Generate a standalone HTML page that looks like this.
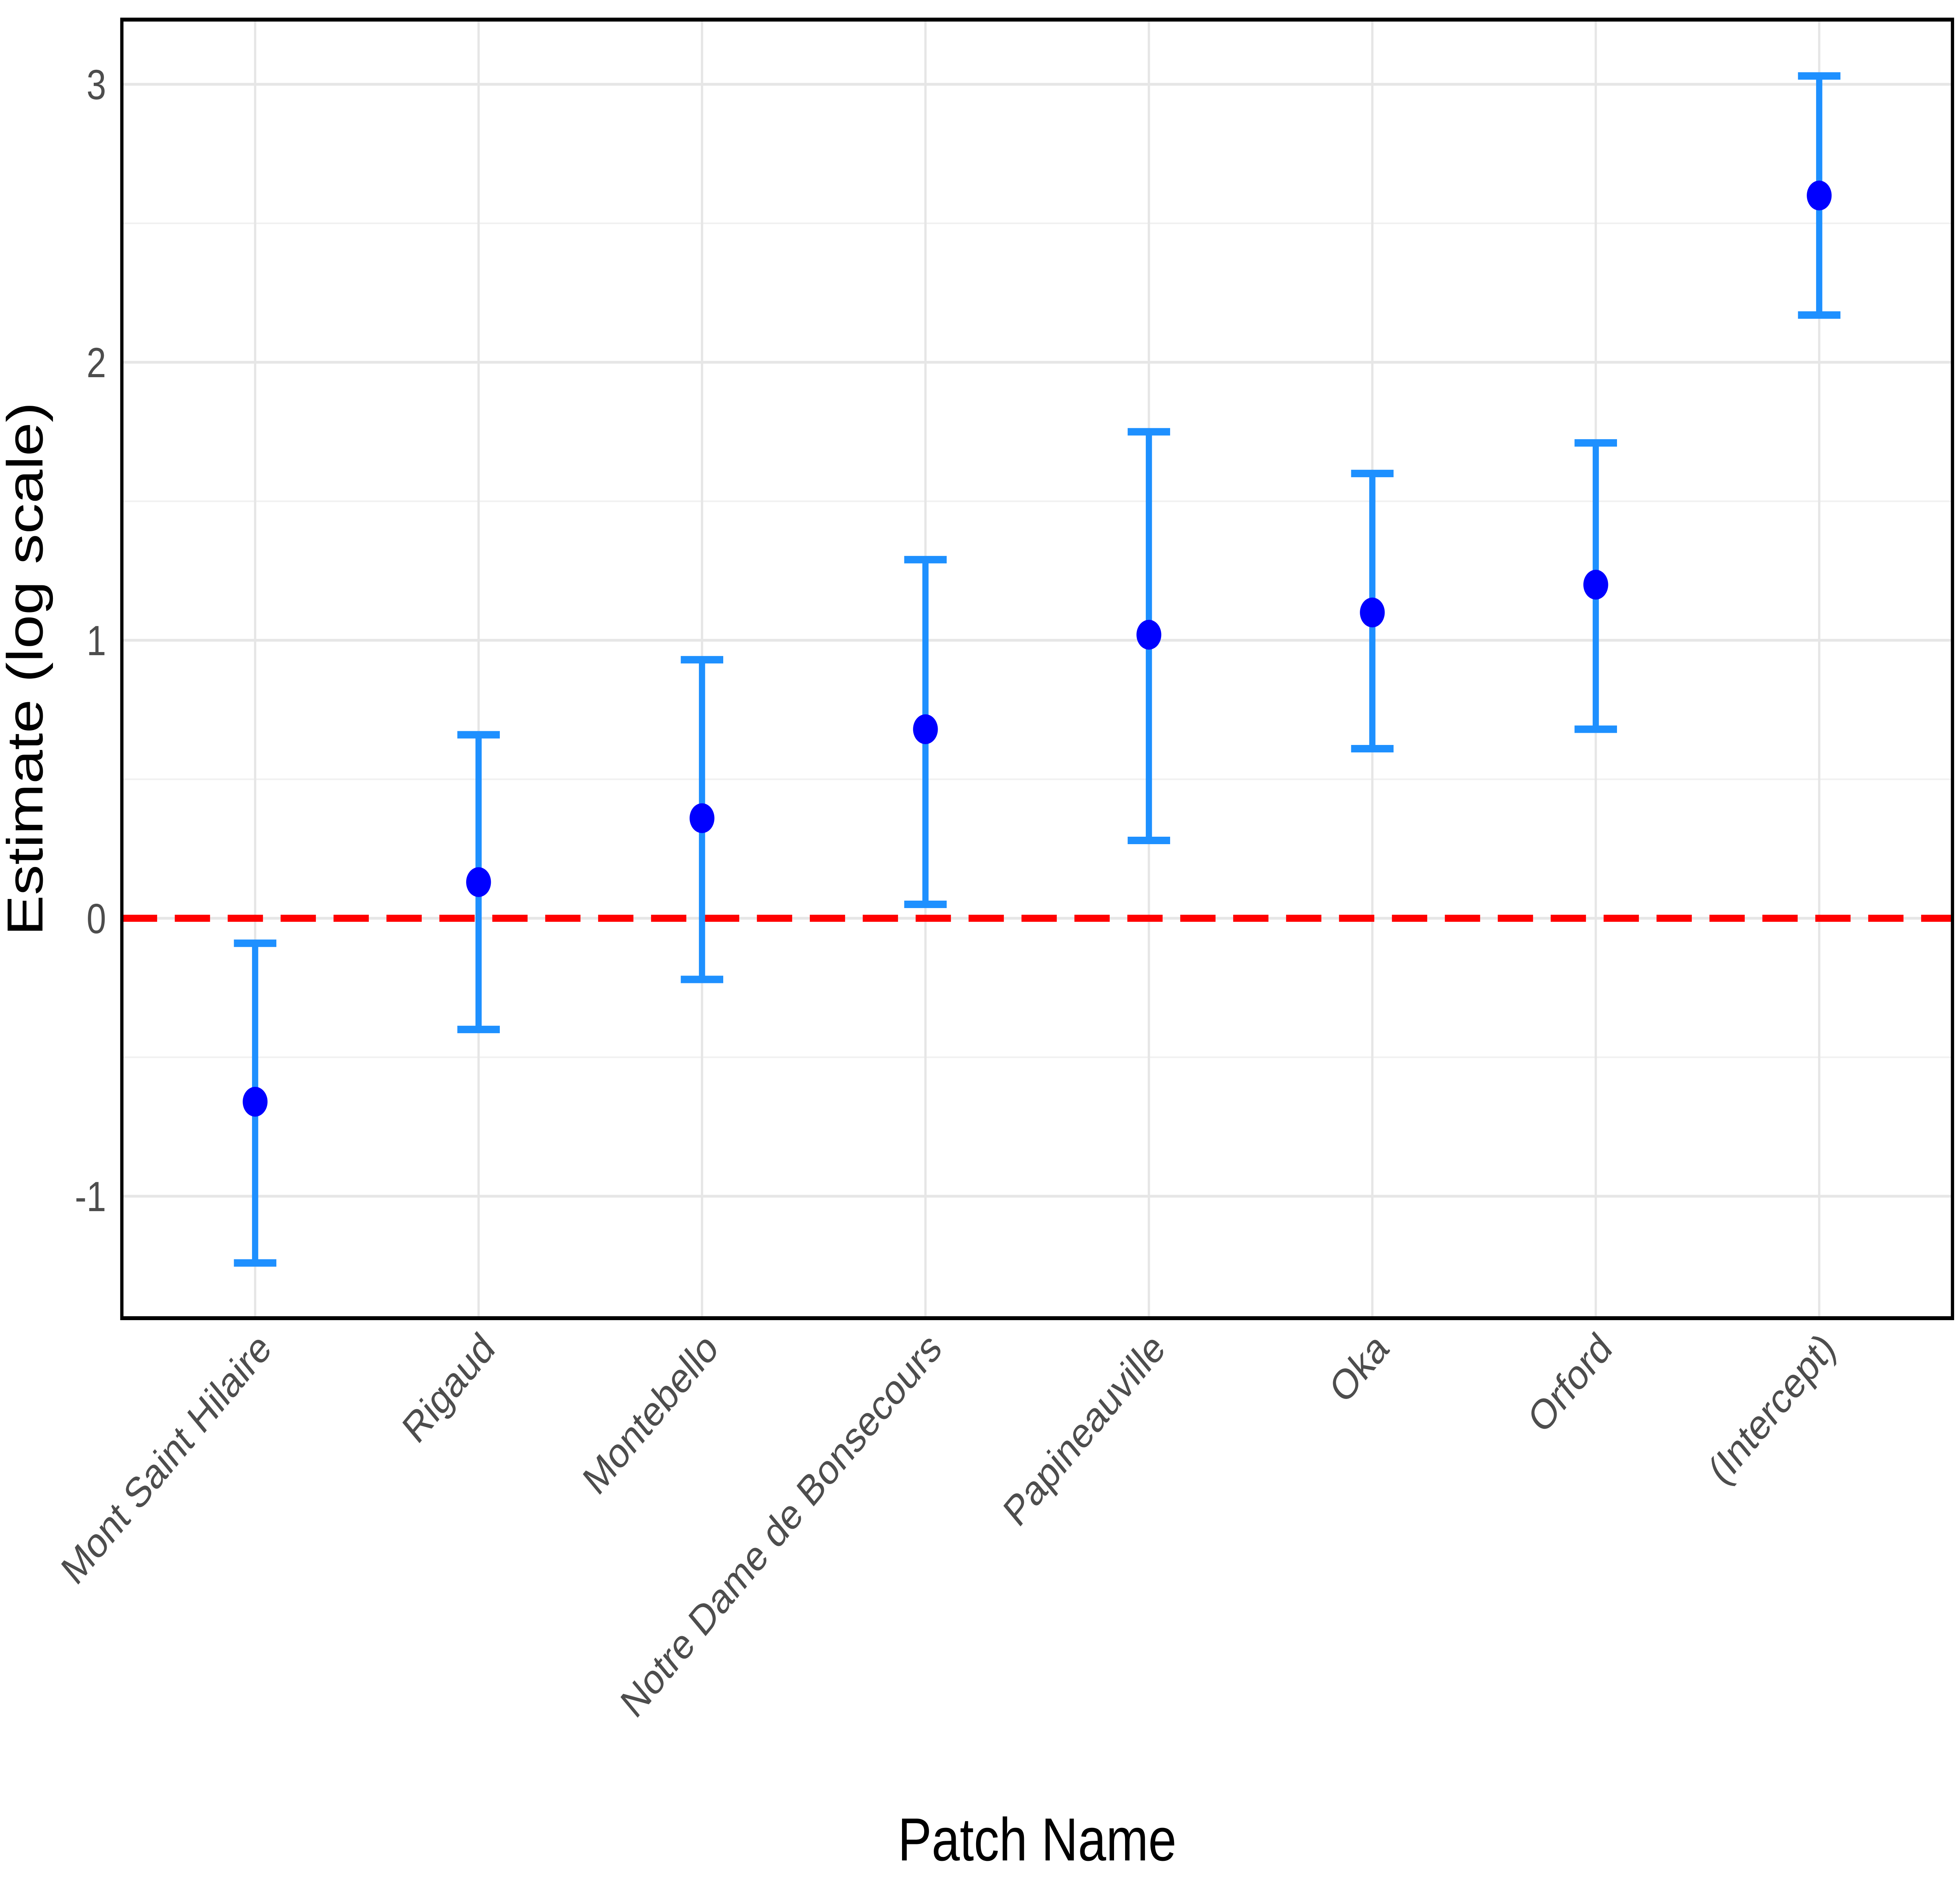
<!DOCTYPE html>
<html><head><meta charset="utf-8"><style>
html,body{margin:0;padding:0;background:#fff;width:100%;height:100%;overflow:hidden;}
svg{display:block;width:100vw;height:100vh;font-family:"Liberation Sans",Arial,sans-serif;}
</style></head><body>
<svg id="chart" viewBox="0 0 6000 4800" preserveAspectRatio="none" xmlns="http://www.w3.org/2000/svg">
<g id="grid"></g>
<g id="marks"></g>
<rect x="373" y="50" width="5604" height="3312" fill="none" stroke="#000" stroke-width="10"/>
<g id="yticks"></g>
<g id="xticks"></g>
<text x="3175" y="4745" font-size="155" text-anchor="middle" fill="#000">Patch Name</text>
<text transform="translate(130,1706) rotate(-90)" font-size="155" text-anchor="middle" fill="#000">Estimate (log scale)</text>
</svg>
<script>
const categories = ["Mont Saint Hilaire","Rigaud","Montebello","Notre Dame de Bonsecours","Papineauville","Oka","Orford","(Intercept)"];
const estimates = [-0.66, 0.13, 0.36, 0.68, 1.02, 1.10, 1.20, 2.60];
const lowerCI = [-1.24, -0.40, -0.22, 0.05, 0.28, 0.61, 0.68, 2.17];
const upperCI = [-0.09, 0.66, 0.93, 1.29, 1.75, 1.60, 1.71, 3.03];
const yTicks = [-1, 0, 1, 2, 3];
const yMinor = [-0.5, 0.5, 1.5, 2.5];

const NS = "http://www.w3.org/2000/svg";
const PL = 373, PR = 5977, PT = 50, PB = 3362;
const Y0 = 2342, YU = 709;
function y(v){ return Y0 - v * YU; }
function x(i){ return 781 + i * 684; }
function el(tag, attrs, parent){ const e = document.createElementNS(NS, tag); for (const k in attrs) e.setAttribute(k, attrs[k]); parent.appendChild(e); return e; }

const grid = document.getElementById('grid');
yMinor.forEach(v => {
  const l = el('line', {x1:PL, x2:PR, y1:y(v), y2:y(v), stroke:'#f0f0f0', 'stroke-width':4}, grid);
  
  
});
yTicks.forEach(v => {
  const l = el('line', {x1:PL, x2:PR, y1:y(v), y2:y(v), stroke:'#e6e6e6', 'stroke-width':7}, grid);
  
  
});
categories.forEach((c, i) => {
  const l = el('line', {x1:x(i), x2:x(i), y1:PT, y2:PB, stroke:'#e6e6e6', 'stroke-width':7}, grid);
  
  
});

const marks = document.getElementById('marks');
const zl = el('line', {x1:PL, x2:PR, y1:y(0), y2:y(0), stroke:'#ff0000', 'stroke-width':18, 'stroke-dasharray':'108 54'}, marks);



categories.forEach((c, i) => {
  const g = el('g', {}, marks);
  
  
  const cx = x(i);
  el('line', {x1:cx, x2:cx, y1:y(lowerCI[i]), y2:y(upperCI[i]), stroke:'#1e90ff', 'stroke-width':19}, g);
  el('line', {x1:cx-65, x2:cx+65, y1:y(lowerCI[i]), y2:y(lowerCI[i]), stroke:'#1e90ff', 'stroke-width':19}, g);
  el('line', {x1:cx-65, x2:cx+65, y1:y(upperCI[i]), y2:y(upperCI[i]), stroke:'#1e90ff', 'stroke-width':19}, g);
  const p = el('circle', {cx:cx, cy:y(estimates[i]), r:38, fill:'#0000ff'}, marks);
  
  
});

const yt = document.getElementById('yticks');
yTicks.forEach(v => {
  const t = el('text', {x:325, y:y(v)+38, 'font-size':108, 'text-anchor':'end', fill:'#4d4d4d'}, yt);
  t.textContent = String(v);
  
  
});
const xt = document.getElementById('xticks');
categories.forEach((c, i) => {
  const t = el('text', {transform:'translate(' + (x(i)+55) + ',3445) rotate(-45)', 'font-size':108, 'text-anchor':'end', fill:'#4d4d4d'}, xt);
  t.textContent = c;
  
  
});
</script>
</body></html>
